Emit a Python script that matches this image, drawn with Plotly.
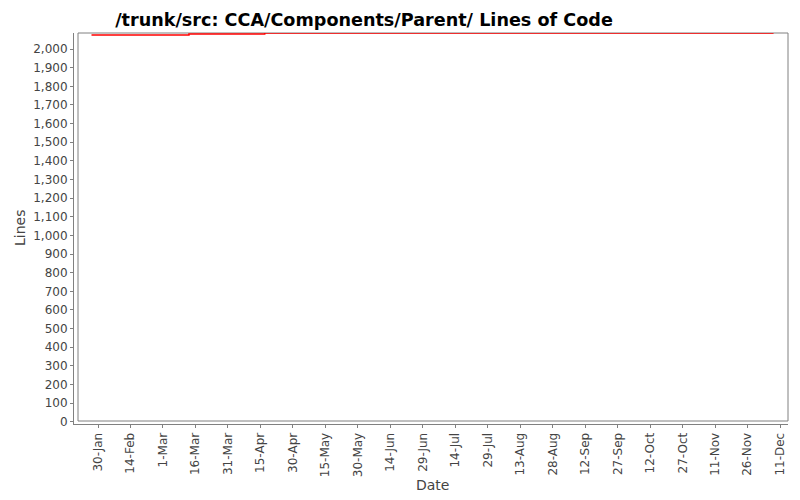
import plotly.graph_objects as go

# lines of code over time (step line)
dates = ['2010-01-27', '2010-03-13', '2010-04-17', '2010-12-08']
lines = [2075, 2080, 2086, 2086]

y_ticks = list(range(0, 2001, 100))

# the page has an 8px body margin, so the figure is 792x492 drawn at (8, 8)
W, H = 792, 492
L, R, T, B = 66, 12, 25, 76
pw, ph = W - L - R, H - T - B

fig = go.Figure()
fig.add_trace(go.Scatter(x=dates, y=lines, mode='lines', line_shape='hv',
                         line=dict(color='#ff0000', width=1.5),
                         showlegend=False, hoverinfo='skip'))

# plot outline, slightly inset from the axis lines
fig.add_shape(type='rect', xref='paper', yref='paper',
              x0=4 / pw, x1=1, y0=3 / ph, y1=1,
              line=dict(color='#808080', width=1), layer='below')

fig.update_layout(
    width=W, height=H,
    margin=dict(l=L, r=R, t=T, b=B),
    paper_bgcolor='white', plot_bgcolor='white',
    font=dict(family='DejaVu Sans', size=12, color='#444444'),
    title=dict(text='<b>/trunk/src: CCA/Components/Parent/ Lines of Code</b>',
               x=356 / W, xanchor='center', y=1 - 12 / H, yanchor='middle',
               font=dict(family='DejaVu Sans', size=17.6, color='black')),
    xaxis=dict(type='date', range=['2010-01-18 22:00', '2010-12-14 16:00'],
               tick0='2010-01-30', dtick=15 * 86400000, tickformat='%-d-%b',
               tickangle=-90, showgrid=False, zeroline=False,
               showline=True, linecolor='#808080', linewidth=1,
               ticks='outside', ticklen=3, tickcolor='#808080'),
    yaxis=dict(range=[-12, 2086], tickvals=y_ticks, tickformat=',',
               showgrid=False, zeroline=False,
               showline=True, linecolor='#808080', linewidth=1,
               ticks='outside', ticklen=3, tickcolor='#808080'),
    annotations=[
        dict(text='Date', xref='paper', yref='paper', x=(424 - L) / pw, y=-61 / ph,
             xanchor='center', yanchor='middle', showarrow=False,
             font=dict(family='DejaVu Sans', size=14, color='#444444')),
        dict(text='Lines', xref='paper', yref='paper', x=-54 / pw, y=(416 - 220) / ph,
             xanchor='center', yanchor='middle', showarrow=False, textangle=-90,
             font=dict(family='DejaVu Sans', size=14, color='#444444')),
    ],
)

fig.write_html("out.html")
